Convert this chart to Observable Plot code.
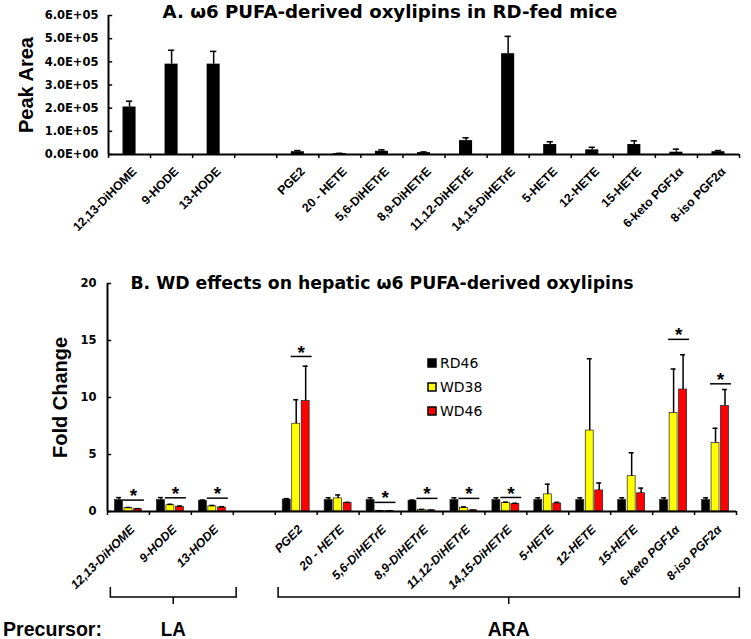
<!DOCTYPE html>
<html><head><meta charset="utf-8">
<script src="https://cdn.jsdelivr.net/npm/d3@7"></script>
<script src="https://cdn.jsdelivr.net/npm/@observablehq/plot@0.6"></script>
<style>
html,body{margin:0;padding:0;background:#fff;}
#root{position:relative;width:751px;height:639px;overflow:hidden;background:#fff;}
#root > *{position:absolute;}
.title{font-family:"DejaVu Sans",sans-serif;font-weight:bold;white-space:nowrap;transform:translateX(-50%);line-height:20px;color:#000;}
#legend{left:428px;top:351px;}
.lg-swatch{line-height:24px !important;padding-bottom:0 !important;}
.lg-swatch > svg{margin-right:4px !important;}
.lg-swatch rect{stroke:#000;stroke-width:1.5px;}
</style></head><body><div id="root"></div>
<script>
// ---- data ----
const categories = ["12,13-DiHOME","9-HODE","13-HODE","PGE2","20 - HETE","5,6-DiHETrE","8,9-DiHETrE","11,12-DiHETrE","14,15-DiHETrE","5-HETE","12-HETE","15-HETE","6-keto PGF1α","8-iso PGF2α"];
const precursor = ["LA","LA","LA","ARA","ARA","ARA","ARA","ARA","ARA","ARA","ARA","ARA","ARA","ARA"];
const peakArea    = [2.05e5, 3.9e5, 3.9e5, 1.2e4, 0.4e4, 1.4e4, 0.8e4, 6.0e4, 4.35e5, 4.3e4, 2.0e4, 4.3e4, 1.0e4, 1.2e4];
const peakAreaSem = [0.25e5, 0.6e5, 0.55e5, 0.5e4, 0.1e4, 0.6e4, 0.3e4, 1.2e4, 0.75e5, 1.2e4, 1.1e4, 1.6e4, 1.3e4, 0.5e4];
const series = ["RD46","WD38","WD46"];
const seriesColors = ["#000000","#ffff00","#ff0000"];
const rd46    = [1.0, 1.0, 0.95, 1.05, 1.0, 1.0, 0.95, 1.0, 1.0, 1.0, 1.0, 1.0, 1.0, 1.0];
const rd46Sem = [0.22, 0.22, 0.05, 0.08, 0.2, 0.2, 0.05, 0.2, 0.2, 0.2, 0.2, 0.2, 0.2, 0.2];
const wd38    = [0.3, 0.55, 0.45, 7.7, 1.15, 0.05, 0.15, 0.3, 0.75, 1.5, 7.1, 3.1, 8.65, 6.0];
const wd38Sem = [0.05, 0.08, 0.08, 2.1, 0.3, 0.02, 0.03, 0.1, 0.07, 0.9, 6.3, 2.05, 3.85, 1.3];
const wd46    = [0.2, 0.4, 0.35, 9.7, 0.75, 0.05, 0.1, 0.1, 0.65, 0.7, 1.85, 1.6, 10.7, 9.25];
const wd46Sem = [0.05, 0.08, 0.07, 3.05, 0.05, 0.02, 0.02, 0.02, 0.07, 0.1, 0.65, 0.45, 3.05, 1.45];
const sigLevel = [1.0, 1.2, 1.17, 13.6, null, 0.8, 1.15, 1.15, 1.23, null, null, null, 15.1, 11.2];
const peakTicks = [0, 1e5, 2e5, 3e5, 4e5, 5e5, 6e5];
const foldTicks = [0, 5, 10, 15, 20];

// ---- layout helpers ----
const slot = [];
{ let s = 0; categories.forEach((c, i) => { if (i > 0 && precursor[i] !== precursor[i-1]) s++; slot.push(s); s++; }); }
const nSlots = slot[slot.length-1] + 1;
const boundaries = d3.range(nSlots + 1);

const topData = categories.map((c, i) => ({name: c, x: slot[i] + 0.5, value: peakArea[i], sem: peakAreaSem[i]}));
const vals = [rd46, wd38, wd46], sems = [rd46Sem, wd38Sem, wd46Sem];
const offsets = [-0.226, 0, 0.226];
const botData = categories.flatMap((c, i) => series.map((s, k) => ({name: c, series: s, x: slot[i] + 0.5 + offsets[k], value: vals[k][i], sem: sems[k][i]})));
const sigData = categories.map((c, i) => ({x: slot[i] + 0.5, level: sigLevel[i]})).filter(d => d.level != null);

const fmtE = d => { const s = d.toExponential(1).toUpperCase(); return s.replace(/E([+-])(\d)$/, "E$10$2"); };
const root = document.getElementById("root");
const arial = "Liberation Sans, Arial, sans-serif";
const dejavu = "DejaVu Sans, sans-serif";

// ---- Panel A ----
const topChart = Plot.plot({
  width: 751, height: 240,
  marginTop: 15, marginBottom: 86, marginLeft: 108, marginRight: 12,
  x: {domain: [0, nSlots], axis: null},
  y: {domain: [0, 6e5], axis: null},
  marks: [
    Plot.rectY(topData, {x1: d => d.x - 0.155, x2: d => d.x + 0.155, y: "value", fill: "#000"}),
    Plot.ruleX(topData, {x: "x", y1: "value", y2: d => d.value + d.sem, stroke: "#000", strokeWidth: 1.5}),
    Plot.ruleY(topData, {y: d => d.value + d.sem, x1: d => d.x - 0.075, x2: d => d.x + 0.075, stroke: "#000", strokeWidth: 1.5}),
    Plot.ruleY([0], {stroke: "#000", strokeWidth: 2}),
    Plot.ruleX([0], {y1: 0, y2: 6e5, stroke: "#000", strokeWidth: 2}),
    Plot.ruleY(peakTicks, {x1: 0, x2: 0.1, stroke: "#000", strokeWidth: 1.5}),
    Plot.axisX(boundaries, {tickSize: 4, tickFormat: () => "", label: null, strokeWidth: 1.5}),
    Plot.text(peakTicks, {y: d => d, frameAnchor: "left", textAnchor: "end", dx: -10, text: fmtE, fontFamily: dejavu, fontWeight: "bold", fontSize: 11.5}),
    Plot.text(topData, {x: "x", text: "name", frameAnchor: "bottom", lineAnchor: "middle", textAnchor: "end", rotate: -45, dx: 5, dy: 15, fontFamily: arial, fontWeight: "bold", fontSize: 12.3}),
    Plot.text(["Peak Area"], {frameAnchor: "left", textAnchor: "middle", rotate: -90, dx: -82, fontSize: 20, fontWeight: "bold", fontFamily: arial})
  ]
});
topChart.style.top = "0px"; topChart.style.left = "0px";
root.appendChild(topChart);

// ---- Panel B ----
const botChart = Plot.plot({
  width: 751, height: 399,
  marginTop: 43, marginBottom: 128, marginLeft: 107, marginRight: 15,
  x: {domain: [0, nSlots], axis: null},
  y: {domain: [0, 20], axis: null},
  color: {domain: series, range: seriesColors},
  marks: [
    Plot.rectY(botData, {x1: d => d.x - 0.095, x2: d => d.x + 0.095, y: "value", fill: "series", stroke: "#222", strokeWidth: 0.7}),
    Plot.ruleX(botData, {x: "x", y1: "value", y2: d => d.value + d.sem, stroke: "#000", strokeWidth: 1.5}),
    Plot.ruleY(botData, {y: d => d.value + d.sem, x1: d => d.x - 0.06, x2: d => d.x + 0.06, stroke: "#000", strokeWidth: 1.5}),
    Plot.ruleY(sigData, {y: "level", x1: d => d.x - 0.12, x2: d => d.x + 0.38, stroke: "#000", strokeWidth: 1.5}),
    Plot.text(sigData, {x: d => d.x + 0.12, y: "level", text: () => "*", dy: -4, fontSize: 19, fontWeight: "bold", fontFamily: arial}),
    Plot.ruleY([0], {stroke: "#000", strokeWidth: 2}),
    Plot.ruleX([0], {y1: 0, y2: 20, stroke: "#000", strokeWidth: 2}),
    Plot.ruleY(foldTicks, {x1: 0, x2: 0.1, stroke: "#000", strokeWidth: 1.5}),
    Plot.axisX(boundaries, {tickSize: 4, tickFormat: () => "", label: null, strokeWidth: 1.5}),
    Plot.text(foldTicks, {y: d => d, frameAnchor: "left", textAnchor: "end", dx: -11, text: d => String(d), fontFamily: dejavu, fontWeight: "bold", fontSize: 11.5}),
    Plot.text(topData, {x: "x", text: "name", frameAnchor: "bottom", lineAnchor: "middle", textAnchor: "end", rotate: -45, dx: 4, dy: 16, fontFamily: arial, fontWeight: "bold", fontStyle: "italic", fontSize: 12.3}),
    Plot.text(["Fold Change"], {frameAnchor: "left", textAnchor: "middle", rotate: -90, dx: -47, fontSize: 20, fontWeight: "bold", fontFamily: arial})
  ]
});
botChart.style.top = "240px"; botChart.style.left = "0px";
root.appendChild(botChart);

// precursor brackets using the chart's own x scale
const sx = botChart.scale("x");
const groups = [...new Set(precursor)].map(g => {
  const ss = slot.filter((s, i) => precursor[i] === g);
  return {name: g, x1: sx.apply(d3.min(ss) + 0.08), x2: sx.apply(d3.max(ss) + 1 + 0.08)};
});
const ov = d3.select(botChart).append("g");
const yTop = 347, yBot = 357;
const narrow = (sel, len) => sel.attr("font-family", arial).attr("font-weight", "bold").attr("font-size", 21)
  .attr("textLength", len).attr("lengthAdjust", "spacingAndGlyphs");
groups.forEach(g => {
  const xm = (g.x1 + g.x2) / 2;
  ov.append("path").attr("d", `M${g.x1},${yTop}V${yBot}H${g.x2}V${yTop}M${xm},${yBot}V${yBot + 7}`)
    .attr("fill", "none").attr("stroke", "#000").attr("stroke-width", 1.5);
  narrow(ov.append("text").attr("x", xm).attr("y", 396).attr("text-anchor", "middle"), g.name === "LA" ? 25 : 42).text(g.name);
});
narrow(ov.append("text").attr("x", 3).attr("y", 396).attr("text-anchor", "start"), 99).text("Precursor:");

// legend
const legend = Plot.legend({color: {domain: series, range: seriesColors}, legend: "swatches", columns: 1, swatchSize: 8, className: "lg",
  style: {fontFamily: "DejaVu Sans, sans-serif", fontSize: "14px", color: "#000", margin: 0}});
legend.id = "legend";
root.appendChild(legend);

// titles
const tA = document.createElement("div"); tA.className = "title"; tA.style.left = "390px"; tA.style.top = "2px"; tA.style.fontSize = "18.2px";
tA.textContent = "A.  ω6 PUFA-derived oxylipins in RD-fed mice"; root.appendChild(tA);
const tB = document.createElement("div"); tB.className = "title"; tB.style.left = "382px"; tB.style.top = "273px"; tB.style.fontSize = "17.3px";
tB.textContent = "B.  WD effects on hepatic ω6 PUFA-derived oxylipins"; root.appendChild(tB);
</script></body></html>
